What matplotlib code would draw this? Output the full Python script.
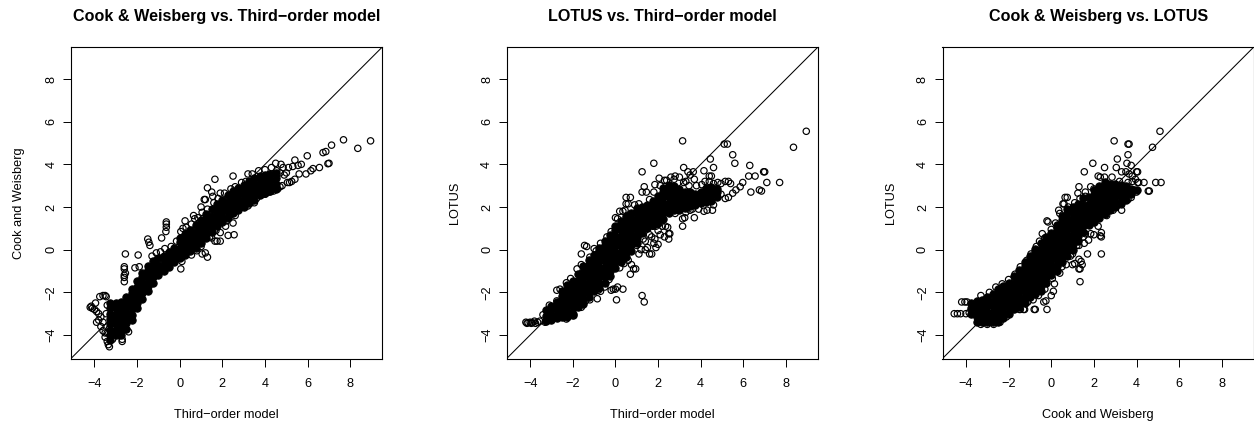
import matplotlib
matplotlib.use("Agg")
import matplotlib.pyplot as plt

plt.rcParams["font.family"] = ["Liberation Sans", "DejaVu Sans"]

# ==========================================
# 1. VALUES
# ==========================================
TICKS = [-4, -2, 0, 2, 4, 6, 8]
LIMITS = (-5.1, 9.5)

titles = ["Cook & Weisberg vs. Third\u2212order model", "LOTUS vs. Third\u2212order model", "Cook & Weisberg vs. LOTUS"]
xlabels = ["Third\u2212order model", "Third\u2212order model", "Cook and Weisberg"]
ylabels = ["Cook and Weisberg", "LOTUS", "LOTUS"]

# Separate points that can be made out one by one, as (x, y)
third_cook_pts = [
    (8.95, 5.1), (8.35, 4.75), (7.68, 5.15), (7.12, 4.9), (6.85, 4.6), (6.72, 4.55), (5.98, 4.4), (5.4, 4.2),
    (7.0, 4.05), (6.95, 4.03), (6.55, 3.85), (6.25, 3.8), (6.15, 3.7), (5.92, 3.55), (5.7, 4.0), (5.55, 3.95),
    (5.6, 3.55), (5.4, 3.3), (5.25, 3.2), (5.15, 3.15), (5.05, 3.15), (5.3, 3.9), (5.1, 3.85), (4.75, 4.0),
    (4.5, 4.05), (4.85, 3.85), (3.2, 3.55), (2.5, 3.45), (1.65, 3.3), (1.3, 2.9), (1.5, 2.7), (1.55, 2.5),
    (1.9, 2.65), (1.2, 2.35), (1.15, 2.35), (1.0, 2.0), (0.65, 1.6), (0.25, 1.35), (-0.63, 1.3), (-0.63, 1.2),
    (-0.63, 1.05), (-0.65, 0.85), (-0.85, 0.55), (-1.5, 0.5), (-1.45, 0.35), (-1.4, 0.2), (-2.55, -0.2),
    (-1.95, -0.25), (-2.6, -0.8), (-2.6, -0.9), (-2.6, -1.2), (-2.6, -1.3), (-2.6, -1.5), (-2.1, -0.85),
    (-1.9, -0.8), (-2.55, -1.1), (0.05, -0.9), (0.1, -0.55), (1.3, -0.35), (1.2, -0.15), (1.05, -0.2),
    (0.55, -0.25), (2.55, 0.7), (2.27, 0.67), (2.5, 1.25), (2.15, 1.1), (1.9, 0.8), (1.9, 0.4), (1.75, 0.4),
    (1.65, 0.4), (1.5, 0.55), (1.45, 0.8), (-3.75, -2.2), (-3.6, -2.15), (-3.45, -2.2), (-3.5, -2.15),
    (-4.2, -2.7), (-4.1, -2.75), (-4.15, -2.65), (-4.0, -2.8), (-3.9, -2.9), (-3.8, -3.0), (-3.7, -3.15),
    (-3.95, -2.5), (-3.9, -3.4), (-3.8, -3.3), (-3.7, -3.6), (-3.6, -3.8), (-3.6, -3.4), (-3.5, -3.9),
    (-3.5, -4.1), (-3.4, -4.3), (-3.3, -4.55), (-3.35, -4.45), (-3.15, -4.2), (-2.7, -4.3), (-2.7, -4.2),
    (-2.4, -3.85), (-3.45, -3.0), (-3.4, -2.6), (-3.3, -3.7), (-3.4, -3.9), (3.4, 3.55), (3.7, 3.7), (4.0, 3.75),
    (4.3, 3.85), (4.55, 3.7), (4.7, 3.6), (4.9, 3.5), (5.0, 3.6), (3.8, 2.55), (4.0, 2.6), (4.2, 2.7), (4.4, 2.75),
    (4.6, 2.85), (4.7, 2.95), (4.8, 3.0), (3.4, 2.3), (3.6, 2.4), (3.0, 2.05),
    (-1.3, -0.3), (-1.1, -0.15), (-0.9, -0.1), (-0.7, 0.05), (-0.4, 0.15), (-0.15, 0.4), (0.05, 0.85), (0.15, 1.0),
    (0.3, 1.05), (0.55, 1.2), (0.7, 1.45), (0.85, 1.5), (1.05, 1.75), (1.3, 1.9), (1.6, 2.2), (1.8, 2.4), (2.1, 2.65),
    (2.4, 2.85), (2.6, 2.95), (2.9, 3.15), (3.1, 3.2), (1.0, 0.15), (0.8, -0.05), (1.4, 0.6), (1.7, 0.9), (2.2, 1.35),
    (2.6, 1.6), (3.2, 2.05), (3.5, 2.2),
]
third_lotus_pts = [
    (8.95, 5.55), (8.35, 4.8), (7.7, 3.15), (7.1, 3.15), (6.95, 3.65), (7.0, 3.65), (6.85, 2.75), (6.75, 2.8),
    (6.35, 2.7), (6.25, 3.45), (6.3, 3.95), (6.55, 3.45), (5.97, 3.15), (5.85, 2.95), (5.65, 2.8), (5.5, 2.65),
    (5.6, 4.05), (5.5, 4.45), (5.25, 4.95), (5.1, 4.95), (4.45, 4.25), (4.6, 3.85), (4.15, 3.7), (3.15, 5.1),
    (3.2, 3.85), (3.65, 3.65), (3.4, 3.65), (3.5, 3.5), (3.7, 3.3), (4.5, 3.45), (4.4, 3.45), (5.3, 3.2),
    (5.15, 3.2), (4.95, 3.1), (4.8, 3.15), (5.4, 3.1), (5.3, 2.45), (5.15, 2.4), (4.95, 2.6), (4.6, 2.1),
    (4.55, 1.85), (4.3, 1.85), (4.15, 1.8), (3.7, 1.5), (3.25, 1.5), (3.15, 1.45), (3.15, 1.1), (1.8, 4.05),
    (1.25, 3.65), (1.35, 2.95), (1.25, 2.7), (1.45, 2.7), (1.85, 3.05), (2.05, 3.35), (0.5, 2.45), (0.7, 2.45),
    (0.5, 2.15), (0.6, 2.15), (0.0, 1.5), (0.2, 1.8), (0.35, 1.8), (-1.45, 0.2), (-1.35, 0.15), (-1.6, -0.2),
    (-1.0, 0.05), (-2.75, -1.9), (1.25, -2.15), (1.35, -2.45), (0.05, -2.35), (0.35, -1.85), (0.1, -1.75),
    (-0.2, -1.9), (-0.1, -1.85), (0.0, -1.85), (-0.85, -2.3), (-1.6, -2.7), (-1.4, -2.4), (-2.0, -3.1),
    (-1.95, -3.1), (-2.3, -3.25), (0.7, -1.15), (0.95, -0.9), (0.85, -0.9), (0.75, -0.7), (-0.7, -1.95),
    (-0.8, -1.9), (-0.3, -1.4), (1.0, 0.2), (1.2, 0.0), (1.4, 0.0), (1.6, -0.2), (1.7, -0.2), (1.9, 0.1),
    (2.0, 0.25), (1.5, 0.1), (1.1, -0.2), (1.85, 0.5), (2.1, 0.7), (2.3, 0.6), (2.5, 0.5), (2.5, 0.75),
    (2.55, 0.75), (2.45, 1.05), (2.35, 1.1), (2.2, 1.1), (1.9, 1.1), (1.75, 1.1), (1.5, 1.0), (1.6, 0.7),
    (1.8, 0.3), (1.3, 0.5), (1.1, 0.7), (1.4, 0.4), (1.7, 0.6), (2.0, 0.9), (2.4, 3.25), (2.6, 3.4), (2.8, 3.45),
    (3.0, 3.4), (2.75, 3.3), (3.3, 3.2), (4.2, 3.2), (4.4, 3.2), (4.6, 3.1), (3.6, 1.9), (3.9, 1.9),
    (-4.2, -3.4), (-4.1, -3.42), (-4.0, -3.4), (-3.9, -3.42), (-3.8, -3.35), (-3.65, -3.4), (-3.4, -3.05),
    (-3.3, -3.4), (-3.1, -2.6), (-2.75, -2.4), (-4.15, -3.45), (-3.95, -3.45), (-3.75, -3.45), (-3.55, -3.35),
    (0.1, 1.45), (0.45, 1.85), (0.9, 2.1), (1.1, 2.15), (1.6, 2.35), (1.8, 2.7), (2.1, 3.0), (2.3, 3.25), (3.2, 3.15),
    (3.45, 3.0), (3.8, 3.0), (4.05, 3.05), (-2.6, -1.85), (-2.3, -1.55), (-2.1, -1.35), (-1.8, -0.9), (-1.6, -0.7),
    (-1.2, -0.35), (-0.9, -0.05), (-0.7, 0.3), (-0.4, 0.6), (-0.2, 0.85), (-1.2, -2.35), (-0.5, -1.75), (0.2, -0.85),
    (0.4, -0.65), (0.6, -0.5), (2.8, 1.7), (3.3, 1.75), (3.5, 1.85),
]
cook_lotus_pts = [
    (5.1, 5.55), (4.75, 4.8), (5.15, 3.15), (4.9, 3.15), (4.6, 2.75), (4.55, 2.75), (4.35, 3.15), (4.1, 3.15),
    (4.05, 3.65), (4.0, 3.65), (3.75, 3.95), (3.55, 4.05), (3.6, 4.45), (3.6, 4.95), (3.65, 4.95), (3.1, 4.25),
    (3.05, 3.85), (2.95, 5.1), (2.5, 3.85), (1.95, 4.05), (1.55, 3.65), (1.3, 2.95), (1.85, 2.95), (1.25, 2.65),
    (1.6, 2.7), (3.3, 1.85), (3.75, 2.45), (2.2, 1.1), (2.35, 0.8), (2.3, 0.65), (2.35, 0.6), (2.35, -0.2),
    (1.7, -0.2), (1.45, -0.7), (1.35, -0.9), (1.3, -0.9), (1.3, -0.45), (1.4, -0.55), (1.1, -0.65), (1.35, -1.5),
    (1.0, -0.7), (1.85, 0.75), (1.55, 0.3), (1.75, 0.45), (2.0, 0.7), (0.1, -1.95), (0.0, -2.15), (-0.2, -2.8),
    (-0.25, -2.4), (-0.35, -2.45), (-0.8, -2.8), (-0.75, -2.8), (-0.85, -2.35), (-1.25, -2.8), (-1.3, -2.8),
    (-1.45, -2.8), (-1.3, -2.4), (-1.35, -2.45), (-1.75, -2.8), (-4.55, -3.0), (-4.4, -3.0), (-4.25, -3.0),
    (-4.2, -2.45), (-4.05, -2.45), (-3.95, -2.45), (-0.42, 0.75), (-0.2, 1.35), (-0.15, 1.3), (0.35, 1.85),
    (0.6, 2.15), (0.65, 2.45), (0.75, 2.45), (0.55, 2.15), (2.2, 3.45), (2.3, 3.4), (2.5, 3.4), (2.85, 3.4),
    (3.3, 3.65), (3.5, 3.65), (3.8, 3.45), (3.95, 3.3), (4.05, 3.15), (3.8, 3.2), (3.65, 3.55), (3.9, 2.8),
    (4.0, 2.7), (1.5, 0.6), (1.2, 0.2), (1.0, -0.2), (0.7, -0.7), (0.4, -1.1), (0.15, -1.6), (-4.0, -3.0),
    (-3.85, -2.95), (-3.3, -2.15), (-2.9, -2.0), (-2.6, -1.75), (-2.3, -1.6), (-2.0, -1.4), (-1.7, -1.15),
    (-1.45, -0.8), (-1.15, -0.5), (-0.95, -0.2), (-0.7, 0.15), (-0.55, 0.4), (-0.3, 0.55), (0.0, 0.95), (0.2, 1.25),
    (0.4, 1.7), (0.8, 2.0), (1.1, 2.2), (1.35, 2.4), (1.6, 2.5), (2.0, 2.85), (3.2, 3.2), (3.6, 3.15), (-3.3, -3.5),
    (-3.0, -3.5), (-2.7, -3.5), (-2.4, -3.4), (-2.1, -3.15), (-1.9, -2.85), (-1.5, -2.8), (-1.1, -2.45), (-0.6, -2.15),
    (-0.3, -1.85), (0.05, -1.35), (0.5, -0.8), (0.9, -0.3), (1.3, 0.2), (1.6, 0.75), (2.6, 1.6), (2.9, 1.85), (3.3, 2.1),
    (3.6, 2.35),
]

# Solid black band in each panel, read as one x column with the y values up it
third_cook_cols = [-3.25, -3.0, -2.75, -2.5, -2.25, -2.0, -1.75, -1.5, -1.25, -1.0, -0.75, -0.5, -0.25, 0.0, 0.25,
                   0.5, 0.75, 1.0, 1.25, 1.5, 1.75, 2.0, 2.25, 2.5, 2.75, 3.0, 3.25, 3.5, 3.75, 4.0, 4.25, 4.5]
third_cook_core = [
    [-4.25, -4.0, -3.75, -3.5, -3.25, -3.0, -2.75, -2.5], [-4.0, -3.75, -3.5, -3.25, -3.0, -2.75, -2.5],
    [-4.0, -3.75, -3.5, -3.25, -3.0, -2.75, -2.45], [-3.7, -3.45, -3.2, -2.95, -2.7, -2.45, -2.2],
    [-3.3, -3.05, -2.8, -2.55, -2.3, -2.05, -1.85], [-2.75, -2.5, -2.25, -2.0, -1.75, -1.45],
    [-2.3, -2.05, -1.8, -1.55, -1.3, -1.1], [-1.95, -1.7, -1.45, -1.2, -0.95, -0.75],
    [-1.55, -1.3, -1.05, -0.8, -0.55], [-1.2, -0.95, -0.7, -0.4], [-1.0, -0.75, -0.5, -0.3],
    [-0.8, -0.55, -0.3, -0.1], [-0.6, -0.35, -0.1, 0.1], [-0.4, -0.15, 0.1, 0.35, 0.55],
    [-0.25, 0.0, 0.25, 0.5, 0.75], [-0.05, 0.2, 0.45, 0.7, 0.9], [0.1, 0.35, 0.6, 0.85, 1.15],
    [0.3, 0.55, 0.8, 1.05, 1.25, 1.4], [0.55, 0.8, 1.05, 1.3, 1.5, 1.65], [0.85, 1.1, 1.35, 1.6, 1.9],
    [1.1, 1.35, 1.6, 1.85, 2.15], [1.3, 1.55, 1.8, 2.05, 2.35], [1.5, 1.75, 2.0, 2.25, 2.55],
    [1.7, 1.95, 2.2, 2.45, 2.75], [1.85, 2.1, 2.35, 2.6, 2.9], [2.0, 2.25, 2.5, 2.75, 3.05],
    [2.2, 2.45, 2.7, 2.95, 3.2], [2.35, 2.6, 2.85, 3.1, 3.35], [2.55, 2.8, 3.05, 3.25, 3.45],
    [2.65, 2.9, 3.15, 3.35, 3.5], [2.75, 3.0, 3.25, 3.55], [2.85, 3.1, 3.35, 3.6],
]

third_lotus_cols = [-3.25, -3.0, -2.75, -2.5, -2.25, -2.0, -1.75, -1.5, -1.25, -1.0, -0.75, -0.5, -0.25, 0.0, 0.25,
                    0.5, 0.75, 1.0, 1.25, 1.5, 1.75, 2.0, 2.25, 2.5, 2.75, 3.0, 3.25, 3.5, 3.75, 4.0, 4.25, 4.5, 4.75]
third_lotus_core = [
    [-3.35, -3.1, -2.85], [-3.3, -3.05, -2.8, -2.65], [-3.2, -2.95, -2.7, -2.45],
    [-3.15, -2.9, -2.65, -2.4, -2.15, -1.95], [-3.15, -2.9, -2.65, -2.4, -2.15, -1.9, -1.65],
    [-3.0, -2.75, -2.5, -2.25, -2.0, -1.75, -1.45], [-2.7, -2.45, -2.2, -1.95, -1.7, -1.45, -1.15],
    [-2.55, -2.3, -2.05, -1.8, -1.55, -1.3, -1.05, -0.75], [-2.2, -1.95, -1.7, -1.45, -1.2, -0.95, -0.7, -0.5],
    [-1.95, -1.7, -1.45, -1.2, -0.95, -0.7, -0.45, -0.25], [-1.8, -1.55, -1.3, -1.05, -0.8, -0.55, -0.3, -0.05, 0.1],
    [-1.55, -1.3, -1.05, -0.8, -0.55, -0.3, -0.05, 0.2, 0.4], [-1.25, -1.0, -0.75, -0.5, -0.25, 0.0, 0.25, 0.5, 0.7],
    [-0.85, -0.6, -0.35, -0.1, 0.15, 0.4, 0.65, 0.9, 1.1], [-0.6, -0.35, -0.1, 0.15, 0.4, 0.65, 0.9, 1.15, 1.35],
    [-0.35, -0.1, 0.15, 0.4, 0.65, 0.9, 1.15, 1.4, 1.6], [-0.05, 0.2, 0.45, 0.7, 0.95, 1.2, 1.45, 1.7],
    [0.3, 0.55, 0.8, 1.05, 1.3, 1.55, 1.8, 1.95], [0.8, 1.05, 1.3, 1.55, 1.8, 2.0], [1.0, 1.25, 1.5, 1.75, 2.0, 2.1],
    [1.15, 1.4, 1.65, 1.9, 2.15, 2.3], [1.25, 1.5, 1.75, 2.0, 2.25, 2.5], [1.45, 1.7, 1.95, 2.2, 2.45, 2.7, 2.9],
    [1.7, 1.95, 2.2, 2.45, 2.7, 2.95, 3.05], [1.85, 2.1, 2.35, 2.6, 2.85, 3.0], [1.85, 2.1, 2.35, 2.6, 2.85],
    [1.95, 2.2, 2.45, 2.7], [2.05, 2.3, 2.55, 2.7], [2.1, 2.35, 2.6], [2.2, 2.45, 2.7], [2.25, 2.5, 2.75, 2.9],
    [2.3, 2.55, 2.8, 2.95], [2.45, 2.7, 2.85],
]

cook_lotus_cols = [-3.75, -3.5, -3.25, -3.0, -2.75, -2.5, -2.25, -2.0, -1.75, -1.5, -1.25, -1.0, -0.75, -0.5, -0.25,
                   0.0, 0.25, 0.5, 0.75, 1.0, 1.25, 1.5, 1.75, 2.0, 2.25, 2.5, 2.75, 3.0, 3.25, 3.5, 3.75, 4.0]
cook_lotus_core = [
    [-3.0, -2.75, -2.5], [-3.4, -3.15, -2.9, -2.65, -2.4], [-3.4, -3.15, -2.9, -2.65, -2.35],
    [-3.4, -3.15, -2.9, -2.65, -2.4, -2.2], [-3.4, -3.15, -2.9, -2.65, -2.4, -2.1],
    [-3.4, -3.15, -2.9, -2.65, -2.4, -2.15, -1.85], [-3.2, -2.95, -2.7, -2.45, -2.2, -1.95, -1.7],
    [-3.0, -2.75, -2.5, -2.25, -2.0, -1.75, -1.55], [-2.8, -2.55, -2.3, -2.05, -1.8, -1.55, -1.25],
    [-2.7, -2.45, -2.2, -1.95, -1.7, -1.45, -1.2, -0.95], [-2.5, -2.25, -2.0, -1.75, -1.5, -1.25, -1.0, -0.75, -0.6],
    [-2.2, -1.95, -1.7, -1.45, -1.2, -0.95, -0.7, -0.45, -0.3],
    [-2.1, -1.85, -1.6, -1.35, -1.1, -0.85, -0.6, -0.35, -0.1, 0.05],
    [-1.95, -1.7, -1.45, -1.2, -0.95, -0.7, -0.45, -0.2, 0.05, 0.3],
    [-1.55, -1.3, -1.05, -0.8, -0.55, -0.3, -0.05, 0.2, 0.45, 0.6],
    [-1.2, -0.95, -0.7, -0.45, -0.2, 0.05, 0.3, 0.55, 0.8], [-1.0, -0.75, -0.5, -0.25, 0.0, 0.25, 0.5, 0.75, 1.0, 1.15],
    [-0.6, -0.35, -0.1, 0.15, 0.4, 0.65, 0.9, 1.15, 1.4, 1.6], [-0.3, -0.05, 0.2, 0.45, 0.7, 0.95, 1.2, 1.45, 1.7, 1.9],
    [0.0, 0.25, 0.5, 0.75, 1.0, 1.25, 1.5, 1.75, 2.0], [0.4, 0.65, 0.9, 1.15, 1.4, 1.65, 1.9, 2.15],
    [0.85, 1.1, 1.35, 1.6, 1.85, 2.1, 2.4], [1.15, 1.4, 1.65, 1.9, 2.15, 2.45], [1.3, 1.55, 1.8, 2.05, 2.3, 2.55, 2.8],
    [1.5, 1.75, 2.0, 2.25, 2.5, 2.75, 3.0], [1.65, 1.9, 2.15, 2.4, 2.65, 2.9, 3.15], [1.85, 2.1, 2.35, 2.6, 2.85, 3.1],
    [2.0, 2.25, 2.5, 2.75, 3.0, 3.1], [2.2, 2.45, 2.7, 2.95, 3.05], [2.35, 2.6, 2.85, 3.0], [2.6, 2.85], [2.8],
]

# ==========================================
# 2. PANELS
# ==========================================
panel_pts = [third_cook_pts, third_lotus_pts, cook_lotus_pts]
panel_cols = [third_cook_cols, third_lotus_cols, cook_lotus_cols]
panel_core = [third_cook_core, third_lotus_core, cook_lotus_core]
axes_left_px = [71, 506.7, 942.5]

W, H = 1254, 423
fig = plt.figure(figsize=(W / 100, H / 100), dpi=100)

for i in range(3):
    ax = fig.add_axes([axes_left_px[i] / W, (H - 358.5) / H, 311.3 / W, 311.5 / H])

    core_x = []
    core_y = []
    for col, ys in zip(panel_cols[i], panel_core[i]):
        core_x += [col] * len(ys)
        core_y += ys
    pts_x = [p[0] for p in panel_pts[i]]
    pts_y = [p[1] for p in panel_pts[i]]

    # The band is solid black in the picture, so its points are drawn filled
    ax.scatter(core_x, core_y, s=28, facecolors="black", edgecolors="black", linewidths=0.75, zorder=2)
    ax.scatter(pts_x, pts_y, s=21, facecolors="none", edgecolors="black", linewidths=0.85, zorder=2)
    ax.axline((0, 0), slope=1, color="black", lw=0.75, zorder=3)

    ax.set_xlim(*LIMITS)
    ax.set_ylim(*LIMITS)
    ax.set_xticks(TICKS)
    ax.set_yticks(TICKS)
    ax.set_xticklabels([str(t).replace("-", "\u2212") for t in TICKS], fontsize=9.2)
    ax.set_yticklabels([str(t).replace("-", "\u2212") for t in TICKS], fontsize=9.2, rotation=90, va="center")
    ax.tick_params(axis="x", length=5.8, width=0.7, pad=8.2)
    ax.tick_params(axis="y", length=5.8, width=0.7, pad=4)
    for spine in ax.spines.values():
        spine.set_linewidth(0.8)

    ax.set_title(titles[i], fontsize=11.6, fontweight="bold", pad=19)
    ax.set_xlabel(xlabels[i], fontsize=9.2, labelpad=13.8)
    ax.set_ylabel(ylabels[i], fontsize=9.2, labelpad=14.5)

plt.savefig("out.png", dpi=100)
